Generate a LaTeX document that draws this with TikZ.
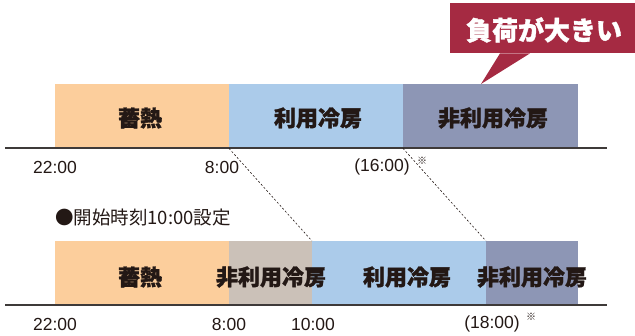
\documentclass[tikz,border=0pt]{standalone}
\usepackage{fontspec}
\setmainfont{Liberation Sans}
\newfontfamily\jp{Noto Sans CJK JP}[BoldFeatures={FakeBold=1.3}]
\definecolor{peach}{HTML}{FCCE9C}
\definecolor{lblue}{HTML}{ABCBEA}
\definecolor{gblue}{HTML}{8D96B5}
\definecolor{beige}{HTML}{CBC1B8}
\definecolor{wine}{HTML}{A52A42}
\definecolor{ink}{HTML}{231815}
\definecolor{axis}{HTML}{3E3A39}
\begin{document}
\begin{tikzpicture}[x=1pt,y=-1pt,
  seg/.style={rectangle,inner sep=0pt,anchor=north west,minimum height=64pt,draw=none},
  bartxt/.style={font=\jp\bfseries\fontsize{22}{22}\selectfont,text=ink,inner sep=0pt},
  timetxt/.style={font=\fontsize{17.5}{17.5}\selectfont,text=ink,inner sep=0pt},
  note/.style={font=\jp\fontsize{10}{10}\selectfont,text=ink,inner sep=0pt},
  axisline/.style={draw=axis,line width=2pt},
  guide/.style={draw=ink,line width=0.6pt,dash pattern=on 2pt off 2pt}]
\useasboundingbox (0,0) rectangle (635,336);
% callout
\node[rectangle,fill=wine,inner sep=0pt,anchor=north west,minimum width=185pt,minimum height=50pt] (callout) at (450,3) {};
\node[inner sep=0pt,text=white,font=\jp\bfseries\fontsize{26}{26}\selectfont] (calltxt) at (544,30) {負荷が大きい};
\coordinate (tip) at (481,84);
\fill[wine] ([xshift=50pt]callout.south west) -- (tip) -- ([xshift=80pt]callout.south west) -- cycle;
% top bar
\node[seg,fill=peach,minimum width=174pt] (t1) at (55,84) {};
\node[seg,fill=lblue,minimum width=174pt] (t2) at (229,84) {};
\node[seg,fill=gblue,minimum width=175pt] (t3) at (403,84) {};
\node[bartxt] (t1l) at (140,118) {蓄熱};
\node[bartxt] (t2l) at (318,118) {利用冷房};
\node[bartxt] (t3l) at (493,118) {非利用冷房};
\coordinate (ta) at (5,148);
\coordinate (tb) at (607,148);
\draw[axisline] (ta) -- (tb);
\node[timetxt] (tt1) at (55,167) {22:00};
\node[timetxt] (tt2) at (222,167) {8:00};
\node[timetxt] (tt3) at (382,167) {(16:00)};
\node[note] (tn1) at (422,161) {※};
% heading
\node[inner sep=0pt,anchor=west,text=ink,font=\jp\fontsize{18.5}{18.5}\selectfont] (head) at (55,218) {●開始時刻10:00設定};
% bottom bar
\node[seg,fill=peach,minimum width=174pt] (b1) at (55,241) {};
\node[seg,fill=beige,minimum width=83pt] (b2) at (229,241) {};
\node[seg,fill=lblue,minimum width=174pt] (b3) at (312,241) {};
\node[seg,fill=gblue,minimum width=92pt] (b4) at (486,241) {};
\node[bartxt] (b1l) at (140,277) {蓄熱};
\node[bartxt] (b2l) at (271,277) {非利用冷房};
\node[bartxt] (b3l) at (407,277) {利用冷房};
\node[bartxt] (b4l) at (532,277) {非利用冷房};
\coordinate (ba) at (5,305);
\coordinate (bb) at (607,305);
\draw[axisline] (ba) -- (bb);
\node[timetxt] (bt1) at (55,324) {22:00};
\node[timetxt] (bt2) at (229,324) {8:00};
\node[timetxt] (bt3) at (313,324) {10:00};
\node[timetxt] (bt4) at (492,324) {(18:00)};
\node[note] (bn1) at (531,317) {※};
% guides
\draw[guide] (t2.south west) -- (b3.north west);
\draw[guide] (t3.south west) -- (b4.north west);
\end{tikzpicture}
\end{document}
